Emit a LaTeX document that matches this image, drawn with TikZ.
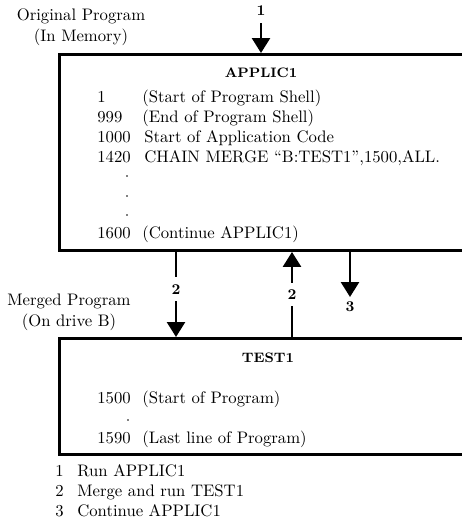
\documentclass[tikz,border=0pt]{standalone}
\usetikzlibrary{arrows.meta}
\begin{document}
\begin{tikzpicture}[x=0.02cm, y=-0.02cm]
	\tikzset{boite/.style={draw=black, line width=1.7pt, anchor=north west, inner sep=0pt, minimum width=8.8cm},
		fleche/.style={line width=1.5pt, -{Triangle[width=0.36cm, length=0.3cm]}},
		texte/.style={anchor=west, inner sep=0pt, font=\fontsize{9.5}{11}\selectfont, text height=1.6ex, text depth=0pt},
		titre/.style={inner sep=0pt, font=\fontsize{7.8}{9}\selectfont\bfseries},
		numero/.style={inner xsep=1pt, inner ysep=4pt, font=\fontsize{8.5}{10}\selectfont\bfseries},
		legende/.style={align=center, font=\fontsize{9.5}{12}\selectfont}};
	\useasboundingbox (0,0) rectangle (461,527);

	% les deux programmes
	\node[boite, minimum height=3.92cm] (applic) at (58,53) {};
	\node[boite, minimum height=2.32cm] (test) at (58,337) {};

	\node[legende] (orig) at (81,27) {Original Program\\(In Memory)};
	\node[legende] (merge) at (69,312) {Merged Program\\(On drive B)};

	% APPLIC1
	\node[titre] (tA) at (261,73) {APPLIC1};
	\node[texte] (a1) at (97,96) {1};
	\node[texte] (a1t) at (142,96) {(Start of Program Shell)};
	\node[texte] (a2) at (97,116) {999};
	\node[texte] (a2t) at (142,116) {(End of Program Shell)};
	\node[texte] (a3) at (97,136) {1000};
	\node[texte] (a3t) at (144,136) {Start of Application Code};
	\node[texte] (a4) at (97,156) {1420};
	\node[texte] (a4t) at (144,156) {CHAIN MERGE ``B:TEST1'',1500,ALL.};
	\fill (127,176) circle (0.5pt);
	\fill (127,196) circle (0.5pt);
	\fill (127,215) circle (0.5pt);
	\node[texte] (a5) at (97,232) {1600};
	\node[texte] (a5t) at (142,232) {(Continue APPLIC1)};

	% TEST1
	\node[titre] (tB) at (268,358) {TEST1};
	\node[texte] (b1) at (97,397) {1500};
	\node[texte] (b1t) at (142,397) {(Start of Program)};
	\fill (128,420) circle (0.5pt);
	\node[texte] (b2) at (97,437) {1590};
	\node[texte] (b2t) at (142,437) {(Last line of Program)};

	% fleches
	\node[numero] (n1) at (261,11) {1};
	\draw[fleche] (n1) -- (n1 |- applic.north);

	\coordinate (g) at (176,0);
	\coordinate (m) at (292,0);
	\coordinate (d) at (350,297);
	\draw[fleche] (g |- applic.south) -- node[numero, fill=white, pos=0.44] (n2a) {2} (g |- test.north);
	\draw[fleche] (m |- test.north) -- node[numero, fill=white, pos=0.5] (n2b) {2} (m |- applic.south);
	\draw[fleche] (d |- applic.south) -- (d);
	\node[numero] (n3) at (350,307) {3};

	% legende
	\node[texte] (l1) at (55,470) {1};
	\node[texte] (l1t) at (77,470) {Run APPLIC1};
	\node[texte] (l2) at (55,490) {2};
	\node[texte] (l2t) at (77,490) {Merge and run TEST1};
	\node[texte] (l3) at (55,510) {3};
	\node[texte] (l3t) at (77,510) {Continue APPLIC1};
\end{tikzpicture}
\end{document}
